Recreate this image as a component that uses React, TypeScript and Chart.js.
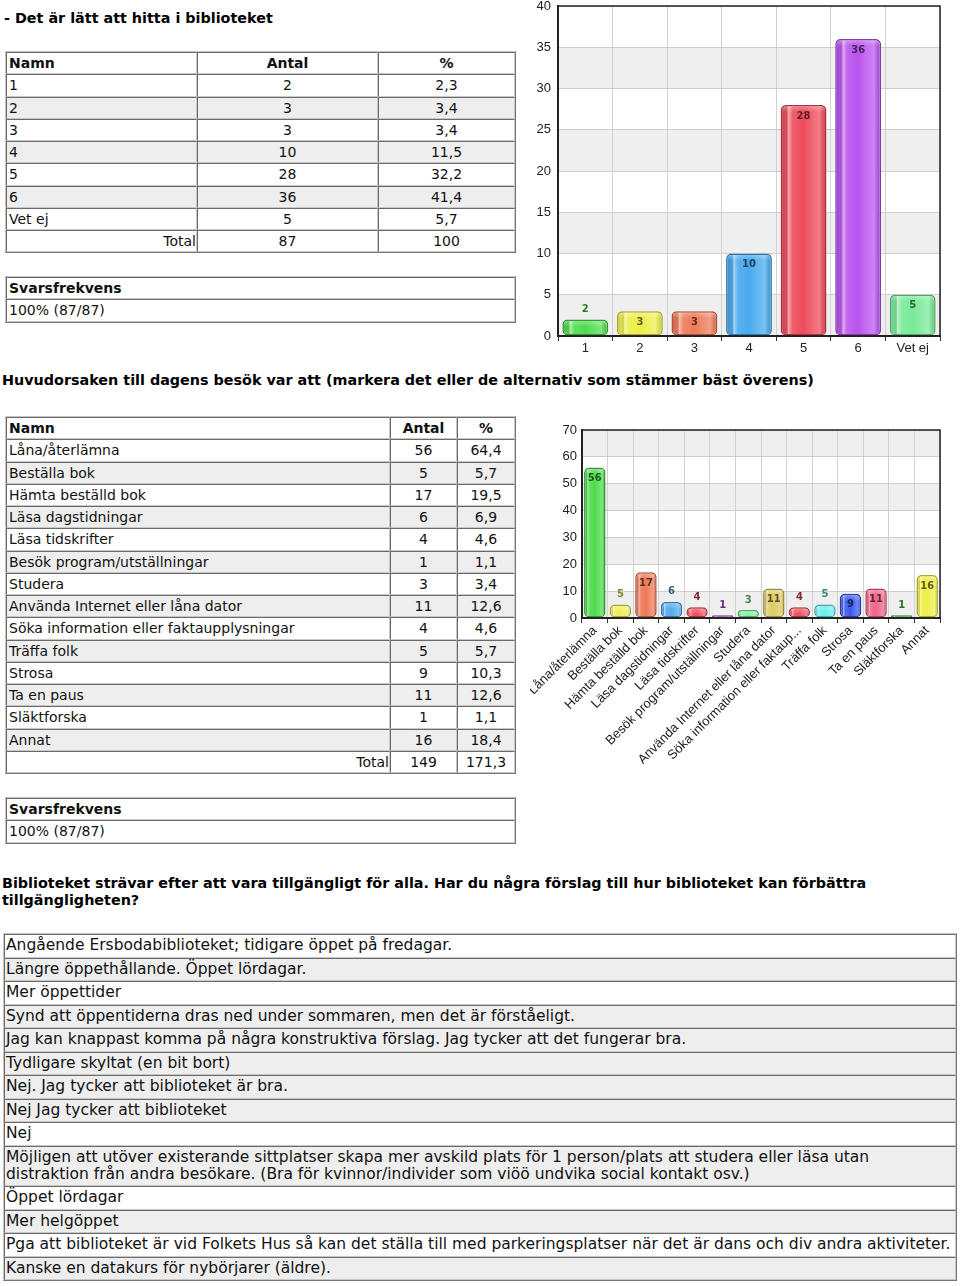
import React, { useEffect, useRef } from "react";
import { Chart, registerables } from "chart.js";

Chart.register(...registerables);

// ---------- DATA ----------
const q1Title = "- Det är lätt att hitta i biblioteket";
const q1Categories = ["1", "2", "3", "4", "5", "6", "Vet ej"];
const q1Counts = [2, 3, 3, 10, 28, 36, 5];
const q1Percents = ["2,3", "3,4", "3,4", "11,5", "32,2", "41,4", "5,7"];
const q1Total = "87";
const q1PercentTotal = "100";
const q1YTicks = { min: 0, max: 40, step: 5 };

const q2Title =
  "Huvudorsaken till dagens besök var att (markera det eller de alternativ som stämmer bäst överens)";
const q2Categories = [
  "Låna/återlämna",
  "Beställa bok",
  "Hämta beställd bok",
  "Läsa dagstidningar",
  "Läsa tidskrifter",
  "Besök program/utställningar",
  "Studera",
  "Använda Internet eller låna dator",
  "Söka information eller faktaupplysningar",
  "Träffa folk",
  "Strosa",
  "Ta en paus",
  "Släktforska",
  "Annat",
];
const q2TickLabels = [
  "Låna/återlämna",
  "Beställa bok",
  "Hämta beställd bok",
  "Läsa dagstidningar",
  "Läsa tidskrifter",
  "Besök program/utställningar",
  "Studera",
  "Använda Internet eller låna dator",
  "Söka information eller faktaup...",
  "Träffa folk",
  "Strosa",
  "Ta en paus",
  "Släktforska",
  "Annat",
];
const q2Counts = [56, 5, 17, 6, 4, 1, 3, 11, 4, 5, 9, 11, 1, 16];
const q2Percents = ["64,4", "5,7", "19,5", "6,9", "4,6", "1,1", "3,4", "12,6", "4,6", "5,7", "10,3", "12,6", "1,1", "18,4"];
const q2Total = "149";
const q2PercentTotal = "171,3";
const q2YTicks = { min: 0, max: 70, step: 10 };

const responseRate = "100% (87/87)";

const q3Title =
  "Biblioteket strävar efter att vara tillgängligt för alla. Har du några förslag till hur biblioteket kan förbättra tillgängligheten?";
const q3Answers = [
  "Angående Ersbodabiblioteket; tidigare öppet på fredagar.",
  "Längre öppethållande. Öppet lördagar.",
  "Mer öppettider",
  "Synd att öppentiderna dras ned under sommaren, men det är förståeligt.",
  "Jag kan knappast komma på några konstruktiva förslag. Jag tycker att det fungerar bra.",
  "Tydligare skyltat (en bit bort)",
  "Nej. Jag tycker att biblioteket är bra.",
  "Nej Jag tycker att biblioteket",
  "Nej",
  "Möjligen att utöver existerande sittplatser skapa mer avskild plats för 1 person/plats att studera eller läsa utan distraktion från andra besökare. (Bra för kvinnor/individer som viöö undvika social kontakt osv.)",
  "Öppet lördagar",
  "Mer helgöppet",
  "Pga att biblioteket är vid Folkets Hus så kan det ställa till med parkeringsplatser när det är dans och div andra aktiviteter.",
  "Kanske en datakurs för nybörjarer (äldre).",
];

// ---------- STYLES ----------
const q1Colors = ["#4fdc4f", "#eeee4a", "#ee7a58", "#48aaee", "#ee4c5c", "#bb55ee", "#79ea98"];
const q2Colors = [
  "#4fdc4f", "#eeee55", "#ee7a58", "#55aaee", "#ee4c5c", "#bb55ee", "#79ee99",
  "#ddcc66", "#ee4c5c", "#66eeee", "#3a5aee", "#ee6688", "#48cc48", "#eeee48",
];
const answerShade = [false, true, false, true, true, true, true, true, false, true, false, true, false, true];

const FONT = '"DejaVu Sans", Verdana, sans-serif';

function shade(hex: string, f: number): string {
  const n = parseInt(hex.slice(1), 16);
  const r = (n >> 16) & 255, g = (n >> 8) & 255, b = n & 255;
  const m = (c: number) => Math.max(0, Math.min(255, Math.round(c * f)));
  return `rgb(${m(r)},${m(g)},${m(b)})`;
}

type BarProps = {
  labels: string[];
  values: number[];
  colors: string[];
  yTicks: { min: number; max: number; step: number };
  width: number;
  height: number;
  yWidth: number;
  xHeight: number;
  padTop: number;
  padRight: number;
  rotation: number;
  yPad: number;
};

function BarChart(p: BarProps) {
  const ref = useRef<HTMLCanvasElement | null>(null);
  useEffect(() => {
    if (!ref.current) return;
    const labelDark = p.colors.map((c) => shade(c, 0.4));
    const labelMid = p.colors.map((c) => shade(c, 0.55));
    const deco = {
      id: "deco",
      beforeDraw(chart: any) {
        const { ctx, chartArea: a, scales } = chart;
        const y = scales.y;
        ctx.save();
        ctx.fillStyle = "#ffffff";
        ctx.fillRect(0, 0, chart.width, chart.height);
        let i = 0;
        for (let v = p.yTicks.min; v < p.yTicks.max; v += p.yTicks.step, i++) {
          if (i % 2 === 0) {
            const t = y.getPixelForValue(v + p.yTicks.step);
            const b = y.getPixelForValue(v);
            ctx.fillStyle = "#efefef";
            ctx.fillRect(a.left, t, a.right - a.left, b - t);
          }
        }
        ctx.restore();
      },
      afterDatasetsDraw(chart: any) {
        const { ctx } = chart;
        const meta = chart.getDatasetMeta(0);
        const data = chart.data.datasets[0].data;
        meta.data.forEach((el: any, i: number) => {
          const q = el.getProps(["x", "y", "base", "width"], true);
          const left = q.x - q.width / 2;
          const top = Math.min(q.y, q.base);
          const h = Math.abs(q.base - q.y);
          ctx.save();
          ctx.beginPath();
          (ctx as any).roundRect(left + 1.5, top + 1.5, q.width - 3, h - 3, 4);
          ctx.clip();
          const g = ctx.createLinearGradient(left, 0, left + q.width, 0);
          g.addColorStop(0, "rgba(0,0,0,0.18)");
          g.addColorStop(0.1, "rgba(0,0,0,0.06)");
          g.addColorStop(0.17, "rgba(255,255,255,0.5)");
          g.addColorStop(0.26, "rgba(255,255,255,0.1)");
          g.addColorStop(0.5, "rgba(255,255,255,0)");
          g.addColorStop(0.85, "rgba(255,255,255,0.28)");
          g.addColorStop(1, "rgba(0,0,0,0.08)");
          ctx.fillStyle = g;
          ctx.fillRect(left, top, q.width, h);
          const g2 = ctx.createLinearGradient(0, top, 0, top + 7);
          g2.addColorStop(0, "rgba(255,255,255,0.35)");
          g2.addColorStop(1, "rgba(255,255,255,0)");
          ctx.fillStyle = g2;
          ctx.fillRect(left, top, q.width, 7);
          ctx.restore();
          const inside = h >= 20;
          ctx.save();
          ctx.font = `bold 10px ${FONT}`;
          ctx.textAlign = "center";
          ctx.textBaseline = "middle";
          ctx.fillStyle = inside ? labelDark[i] : labelMid[i];
          ctx.fillText(String(data[i]), q.x, inside ? top + 11 : top - 10);
          ctx.restore();
        });
      },
      afterDraw(chart: any) {
        const { ctx, chartArea: a } = chart;
        ctx.save();
        ctx.strokeStyle = "#222";
        ctx.lineWidth = 1.5;
        ctx.strokeRect(a.left, a.top, a.right - a.left, a.bottom - a.top);
        ctx.restore();
      },
    };
    const chart = new Chart(ref.current, {
      type: "bar",
      data: {
        labels: p.labels,
        datasets: [
          {
            data: p.values,
            backgroundColor: p.colors,
            borderColor: p.colors.map((c) => shade(c, 0.7)),
            borderWidth: 1.5,
            borderRadius: 5,
            borderSkipped: false,
            barPercentage: 0.84,
            categoryPercentage: 1,
          },
        ],
      },
      options: {
        animation: false,
        responsive: false,
        maintainAspectRatio: false,
        devicePixelRatio: 1,
        layout: { padding: { top: p.padTop, right: p.padRight, left: 0, bottom: 0 } },
        plugins: { legend: { display: false }, tooltip: { enabled: false } },
        scales: {
          x: {
            grid: { offset: true, color: "#d2d2d2", tickColor: "#333", tickLength: 5 },
            border: { color: "#222", width: 2 },
            ticks: {
              color: "#222",
              font: { family: "'Liberation Sans', Arial, sans-serif", size: 13 },
              autoSkip: false,
              maxRotation: p.rotation,
              minRotation: p.rotation,
              padding: 0,
            },
            afterFit: (s: any) => {
              s.height = p.xHeight;
              s.paddingLeft = 0;
              s.paddingRight = 0;
            },
          },
          y: {
            min: p.yTicks.min,
            max: p.yTicks.max,
            ticks: {
              stepSize: p.yTicks.step,
              color: "#222",
              font: { family: "'Liberation Sans', Arial, sans-serif", size: 13 },
              padding: p.yPad,
            },
            grid: { color: "#cfcfcf", drawTicks: false },
            border: { color: "#222", width: 2 },
            afterFit: (s: any) => {
              s.width = p.yWidth;
              s.paddingTop = 0;
              s.paddingBottom = 0;
            },
          },
        },
      },
      plugins: [deco],
    } as any);
    return () => chart.destroy();
  }, []);
  return <canvas ref={ref} width={p.width} height={p.height} style={{ display: "block", width: p.width, height: p.height }} />;
}

const tableStyle: React.CSSProperties = {
  position: "absolute",
  borderCollapse: "separate",
  borderSpacing: 0,
  borderTop: "1px solid #c4c4c4",
  borderLeft: "1px solid #c4c4c4",
  borderBottom: "1px solid #747474",
  borderRight: "1px solid #747474",
  fontFamily: FONT,
  fontSize: 14,
  color: "#111",
  tableLayout: "fixed",
};

function cell(extra: React.CSSProperties = {}): React.CSSProperties {
  return {
    borderTop: "1px solid #6a6a6a",
    borderLeft: "1px solid #6a6a6a",
    borderBottom: "1px solid #c8c8c8",
    borderRight: "1px solid #c8c8c8",
    padding: "0 2px",
    lineHeight: "20.25px",
    whiteSpace: "nowrap",
    overflow: "hidden",
    ...extra,
  };
}

function CountTable(props: {
  top: number;
  cols: number[];
  names: string[];
  counts: number[];
  percents: string[];
  total: string;
  pctTotal: string;
}) {
  const { cols } = props;
  return (
    <table style={{ ...tableStyle, left: 5, top: props.top, width: 511 }}>
      <colgroup>
        {cols.map((w, i) => (
          <col key={i} style={{ width: w }} />
        ))}
      </colgroup>
      <tbody>
        <tr>
          <td style={cell({ fontWeight: "bold" })}>Namn</td>
          <td style={cell({ fontWeight: "bold", textAlign: "center" })}>Antal</td>
          <td style={cell({ fontWeight: "bold", textAlign: "center" })}>%</td>
        </tr>
        {props.names.map((n, i) => {
          const bg = i % 2 === 1 ? "#eeeeee" : "#ffffff";
          return (
            <tr key={n}>
              <td style={cell({ background: bg })}>{n}</td>
              <td style={cell({ background: bg, textAlign: "center" })}>{props.counts[i]}</td>
              <td style={cell({ background: bg, textAlign: "center" })}>{props.percents[i]}</td>
            </tr>
          );
        })}
        <tr>
          <td style={cell({ textAlign: "right", paddingRight: 0 })}>Total</td>
          <td style={cell({ textAlign: "center" })}>{props.total}</td>
          <td style={cell({ textAlign: "center" })}>{props.pctTotal}</td>
        </tr>
      </tbody>
    </table>
  );
}

function RateTable(props: { top: number }) {
  return (
    <table style={{ ...tableStyle, left: 5, top: props.top, width: 511 }}>
      <tbody>
        <tr>
          <td style={cell({ fontWeight: "bold" })}>Svarsfrekvens</td>
        </tr>
        <tr>
          <td style={cell()}>{responseRate}</td>
        </tr>
      </tbody>
    </table>
  );
}

const headingStyle: React.CSSProperties = {
  position: "absolute",
  fontFamily: FONT,
  fontWeight: "bold",
  fontSize: 14.35,
  lineHeight: "17px",
  color: "#000",
  margin: 0,
};

export default function App() {
  return (
    <div style={{ position: "absolute", left: 0, top: 0, width: 960, height: 1286, background: "#fff", overflow: "hidden" }}>
      <div style={{ ...headingStyle, left: 4, top: 10 }}>{q1Title}</div>
      <CountTable
        top={51}
        cols={[191, 181, 137]}
        names={q1Categories}
        counts={q1Counts}
        percents={q1Percents}
        total={q1Total}
        pctTotal={q1PercentTotal}
      />
      <RateTable top={276} />
      <div style={{ position: "absolute", left: 530, top: 0 }}>
        <BarChart
          labels={q1Categories}
          values={q1Counts}
          colors={q1Colors}
          yTicks={q1YTicks}
          width={430}
          height={360}
          yWidth={28}
          xHeight={24}
          padTop={6}
          padRight={20}
          rotation={0}
          yPad={7}
        />
      </div>

      <div style={{ ...headingStyle, left: 2, top: 372 }}>{q2Title}</div>
      <CountTable
        top={416}
        cols={[384, 67, 58]}
        names={q2Categories}
        counts={q2Counts}
        percents={q2Percents}
        total={q2Total}
        pctTotal={q2PercentTotal}
      />
      <RateTable top={797} />
      <div style={{ position: "absolute", left: 530, top: 415 }}>
        <BarChart
          labels={q2TickLabels}
          values={q2Counts}
          colors={q2Colors}
          yTicks={q2YTicks}
          width={430}
          height={365}
          yWidth={52}
          xHeight={162}
          padTop={15}
          padRight={20}
          rotation={45}
          yPad={5}
        />
      </div>

      <div style={{ ...headingStyle, left: 2, top: 875, width: 950 }}>{q3Title}</div>
      <table style={{ ...tableStyle, left: 3, top: 933, width: 954, fontSize: 15.5 }}>
        <tbody>
          {q3Answers.map((a, i) => (
            <tr key={i}>
              <td
                style={cell({
                  background: answerShade[i] ? "#eeeeee" : "#ffffff",
                  whiteSpace: "normal",
                  overflow: "visible",
                  lineHeight: "17px",
                  padding: "2.25px 3px 2.25px 1px",
                })}
              >
                {a}
              </td>
            </tr>
          ))}
        </tbody>
      </table>
    </div>
  );
}
